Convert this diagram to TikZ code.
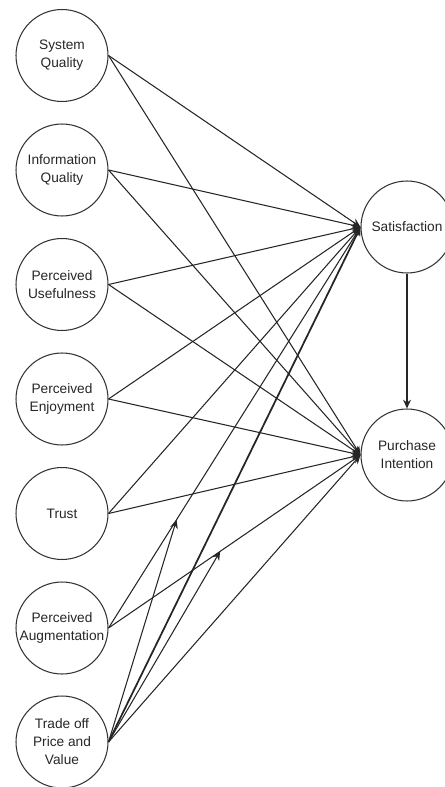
\documentclass[tikz,border=0pt]{standalone}
\usepackage{fontspec}
\setmainfont{Liberation Sans}
\usetikzlibrary{arrows.meta}

\begin{document}
\begin{tikzpicture}[x=0.02cm, y=-0.02cm,
  factor/.style={draw=black!80, circle, line width=0.6pt, minimum size=1.84cm, inner sep=0pt, align=center, text=black!85, font=\fontsize{7.8}{10.2}\selectfont},
  link/.style={draw=black!85, line width=0.6pt, -{Stealth[length=5pt, width=4.5pt]}}]
  \useasboundingbox (0,0) rectangle (445,787);

  %% Antecedents
  \node[factor] (sq)    at (62,55.5)  {System\\Quality};
  \node[factor] (iq)    at (62,170)   {Information\\Quality};
  \node[factor] (pu)    at (62,284.5) {Perceived\\Usefulness};
  \node[factor] (pe)    at (62,399)   {Perceived\\Enjoyment};
  \node[factor] (trust) at (62,513.5) {Trust};
  \node[factor] (pa)    at (62,628)   {Perceived\\Augmentation};
  \node[factor] (tpv)   at (62,742)   {Trade off\\Price and\\Value};

  %% Outcomes
  \node[factor] (sat) at (407,227) {Satisfaction};
  \node[factor] (pi)  at (407,455) {Purchase\\Intention};

  %% Paths to Satisfaction and Purchase Intention
  \draw[link] (sq.east) -- (sat.west);
  \draw[link] (sq.east) -- (pi.west);
  \draw[link] (iq.east) -- (sat.west);
  \draw[link] (iq.east) -- (pi.west);
  \draw[link] (pu.east) -- (sat.west);
  \draw[link] (pu.east) -- (pi.west);
  \draw[link] (pe.east) -- (sat.west);
  \draw[link] (pe.east) -- (pi.west);
  \draw[link] (trust.east) -- (sat.west);
  \draw[link] (trust.east) -- (pi.west);
  \draw[link] (pa.east) -- coordinate[pos=0.27] (mpasat) (sat.west);
  \draw[link] (pa.east) -- coordinate[pos=0.443] (mpapi) (pi.west);
  \draw[link, line width=1pt] (tpv.east) -- (sat.west);
  \draw[link] (tpv.east) -- (pi.west);

  %% Moderating paths
  \draw[link] (tpv.east) -- (mpasat);
  \draw[link] (tpv.east) -- (mpapi);

  \draw[link] (sat.south) -- (pi.north);
\end{tikzpicture}
\end{document}
